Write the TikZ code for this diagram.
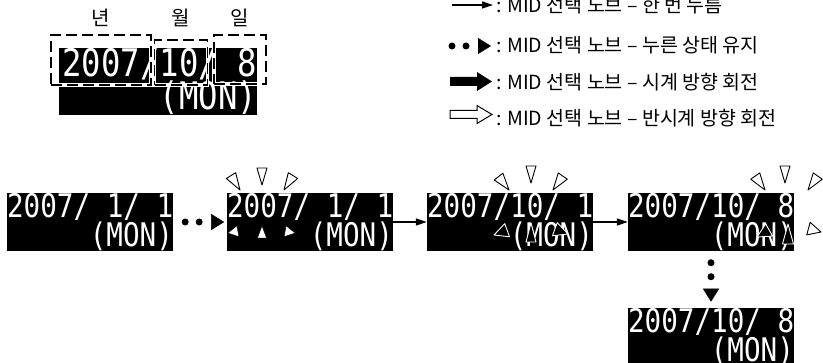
\documentclass[tikz,border=0pt]{standalone}
\usepackage{fontspec}
\setmainfont{Noto Sans CJK KR}
\newfontfamily\lcdfont[FakeStretch=0.85]{DejaVu Sans Mono}
\usetikzlibrary{positioning, arrows.meta, decorations.markings}

% one empty digit cell of the display
\newcommand\cellgap{\hphantom{0}}
% blinking marker: style, apex, direction, length, half base
\newcommand\ray[5]{\draw[#1, shift={(#2)}, rotate=#3] (0,0) -- (-#4,#5) -- (-#4,-#5) -- cycle;}

\begin{document}
\begin{tikzpicture}[x=1pt, y=1pt,
    display/.style={rectangle, fill=black, text=white, inner sep=0pt, align=right,
        text width=166pt, minimum height=56pt,
        font=\lcdfont\fontsize{32.5}{27}\selectfont},
    bigdisplay/.style={display, text width=198pt, minimum height=67pt,
        font=\lcdfont\fontsize{38}{33}\selectfont},
    field/.style={draw, inner sep=0pt, line width=1.6pt, dash pattern=on 11pt off 5pt,
        preaction={draw=white, solid, line width=3.5pt}},
    unitlabel/.style={font=\fontsize{20}{20}\selectfont},
    legendtext/.style={anchor=west, inner sep=1pt, font=\fontsize{19.5}{19.5}\selectfont},
    press/.style={line width=1.2pt, -{Triangle[length=11pt, width=7pt]}},
    hold/.style={decorate, decoration={markings,
        mark=at position 12pt with {\fill (0,0) circle (3.5pt);},
        mark=at position 26pt with {\fill (0,0) circle (3.5pt);},
        mark=at position 51pt with {\arrow{Triangle[length=13pt, width=16pt]}}}},
    rayout/.style={draw=black, fill=white, line width=0.9pt, line join=round},
    rayin/.style={draw=white, fill=black, line width=0.9pt, line join=round},
    raysolid/.style={fill=white}]

    \useasboundingbox (0,0) rectangle (823,-363);

    % date field explanation
    \node[bigdisplay] (d0) at (158,-81.5) {2007/10/\cellgap8\\(MON)};
    \node[field, minimum width=100pt, minimum height=50pt] (yearbox) at (101,-60) {};
    \node[field, minimum width=53pt, minimum height=45pt] (monthbox) at (181,-62.5) {};
    \node[field, minimum width=52pt, minimum height=49pt] (daybox) at (240,-59.5) {};
    \node[unitlabel] (ylab) at (yearbox.north |- 0,-18) {년};
    \node[unitlabel] (mlab) at (monthbox.north |- 0,-18) {월};
    \node[unitlabel] (dlab) at (daybox.north |- 0,-18) {일};

    % legend
    \coordinate (k1a) at (452,-5);   \coordinate (k1b) at (493,-5);
    \coordinate (k2a) at (440,-46);  \coordinate (k2b) at (493,-46);
    \coordinate (k3) at (450,-81.5);
    \coordinate (k4) at (450,-114.5);
    \draw[press] (k1a) -- (k1b);
    \path[hold] (k2a) -- (k2b);
    \fill (k3) ++(0,4.5) -- ++(27,0) -- ++(0,5) -- ++(15,-9.5) -- ++(-15,-9.5)
        -- ++(0,5) -- ++(-27,0) -- cycle;
    \draw[line width=1pt] (k4) ++(0,4) -- ++(27,0) -- ++(0,5) -- ++(15,-9) -- ++(-15,-9)
        -- ++(0,5) -- ++(-27,0) -- cycle;
    \node[legendtext] (t1) at (495,-5) {: MID 선택 노브 – 한 번 누름};
    \node[legendtext] (t2) at (495,-45) {: MID 선택 노브 – 누른 상태 유지};
    \node[legendtext] (t3) at (495,-82) {: MID 선택 노브 – 시계 방향 회전};
    \node[legendtext] (t4) at (495,-118) {: MID 선택 노브 – 반시계 방향 회전};

    % setting sequence
    \node[display] (d1) at (90,-222) {2007/\cellgap1/\cellgap1\\(MON)};
    \node[display] (d2) at (310,-222) {2007/\cellgap1/\cellgap1\\(MON)};
    \node[display] (d3) at (510,-222) {2007/10/\cellgap1\\(MON)};
    \node[display] (d4) at (711,-222) {2007/10/\cellgap8\\(MON)};
    \node[display] (d5) at (711,-337) {2007/10/\cellgap8\\(MON)};

    \path[hold] (d1) -- (d2);
    \draw[press] (d2) -- (d3);
    \draw[press] (d3) -- (d4);
    \path[hold] (d4) -- (d5);

    % blinking year
    \ray{rayout}{240,-190}{-58}{17}{5.5}
    \ray{rayout}{262,-185}{-90}{17}{5}
    \ray{rayout}{284,-190}{-122}{17}{5.5}
    \ray{raysolid}{228,-233}{190}{10}{5.5}
    \ray{raysolid}{262,-226}{90}{12}{4.5}
    \ray{raysolid}{295,-233}{-10}{10}{5.5}
    % blinking month
    \ray{rayout}{509,-190}{-52}{17}{5.5}
    \ray{rayout}{531,-183}{-90}{17}{5}
    \ray{rayout}{553,-190}{-125}{17}{5.5}
    \ray{rayin}{494,-235}{200}{14}{7}
    \ray{rayin}{531,-223}{90}{19}{5}
    \ray{rayin}{568,-234}{-20}{14}{7}
    % blinking day
    \ray{rayout}{765,-190}{-55}{17}{5.5}
    \ray{rayout}{785,-183}{-90}{17}{5}
    \ray{rayout}{808,-190}{-125}{17}{5.5}
    \ray{rayout}{821,-232}{-15}{13}{6.5}
    \ray{rayin}{757,-237}{210}{14}{7}
    \ray{rayin}{788,-224}{90}{20}{5.5}
\end{tikzpicture}
\end{document}
